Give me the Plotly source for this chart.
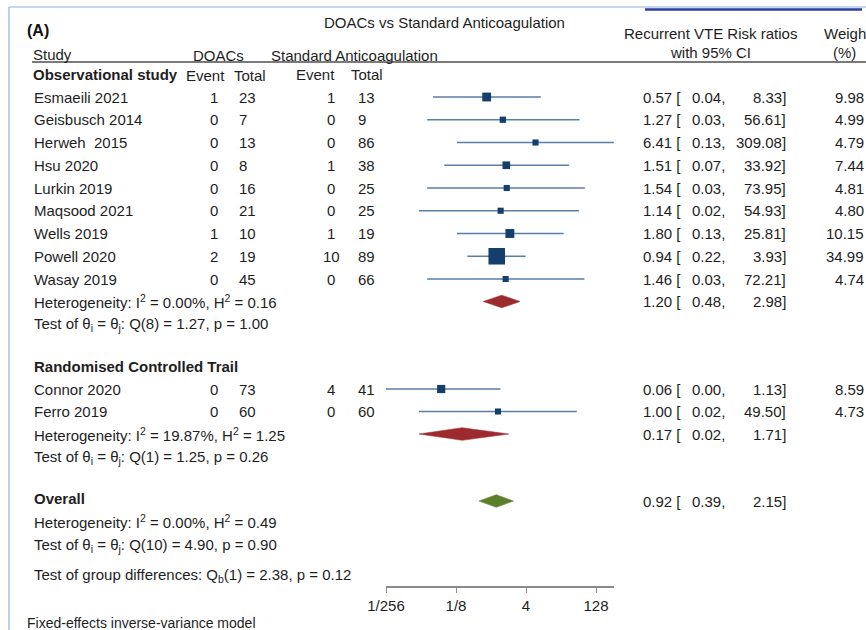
import math
import plotly.graph_objects as go

W, H = 866, 630
FONT = "Liberation Sans, Arial, sans-serif"
TEXT = "#1e1e1e"
SQUARE = "#143f6c"
CI_LINE = "#5a7ea6"
RED = "#9c2b30"
GREEN = "#5b7f2a"

# ---------------- data ----------------
obs_studies = ["Esmaeili 2021", "Geisbusch 2014", "Herweh  2015", "Hsu 2020", "Lurkin 2019",
               "Maqsood 2021", "Wells 2019", "Powell 2020", "Wasay 2019"]
obs_doac_events = [1, 0, 0, 0, 0, 0, 1, 2, 0]
obs_doac_totals = [23, 7, 13, 8, 16, 21, 10, 19, 45]
obs_std_events = [1, 0, 0, 1, 0, 0, 1, 10, 0]
obs_std_totals = [13, 9, 86, 38, 25, 25, 19, 89, 66]
obs_rr = [0.57, 1.27, 6.41, 1.51, 1.54, 1.14, 1.80, 0.94, 1.46]
obs_lo = [0.04, 0.03, 0.13, 0.07, 0.03, 0.02, 0.13, 0.22, 0.03]
obs_hi = [8.33, 56.61, 309.08, 33.92, 73.95, 54.93, 25.81, 3.93, 72.21]
obs_weight = [9.98, 4.99, 4.79, 7.44, 4.81, 4.80, 10.15, 34.99, 4.74]

rct_studies = ["Connor 2020", "Ferro 2019"]
rct_doac_events = [0, 0]
rct_doac_totals = [73, 60]
rct_std_events = [4, 0]
rct_std_totals = [41, 60]
rct_rr = [0.06, 1.00]
rct_lo = [0.0034, 0.02]
rct_hi = [1.13, 49.50]
rct_weight = [8.59, 4.73]

obs_pooled = (1.20, 0.48, 2.98)
rct_pooled = (0.17, 0.02, 1.71)
overall_pooled = (0.92, 0.39, 2.15)

obs_het = "Heterogeneity: I<sup>2</sup> = 0.00%, H<sup>2</sup> = 0.16"
obs_test = "Test of θ<sub>i</sub> = θ<sub>j</sub>: Q(8) = 1.27, p = 1.00"
rct_het = "Heterogeneity: I<sup>2</sup> = 19.87%, H<sup>2</sup> = 1.25"
rct_test = "Test of θ<sub>i</sub> = θ<sub>j</sub>: Q(1) = 1.25, p = 0.26"
all_het = "Heterogeneity: I<sup>2</sup> = 0.00%, H<sup>2</sup> = 0.49"
all_test = "Test of θ<sub>i</sub> = θ<sub>j</sub>: Q(10) = 4.90, p = 0.90"
group_test = "Test of group differences: Q<sub>b</sub>(1) = 2.38, p = 0.12"

tick_vals = [2 ** -8, 2 ** -3, 4, 128]
tick_text = ["1/256", "1/8", "4", "128"]

# ---------------- layout helpers ----------------
ROW0_PX, ROW_PX = 97.0, 22.75


def row(px):
    """Convert a vertical pixel position into the row units of the y axis."""
    return (px - ROW0_PX) / ROW_PX


# horizontal scale: 1/256 sits at x=386 px and every doubling adds 14 px
X_DOMAIN_PX = (386, 614)
x_left_l2 = -8 + (X_DOMAIN_PX[0] - 386) / 14
x_right_l2 = -8 + (X_DOMAIN_PX[1] - 386) / 14
LOG10_2 = math.log10(2)

obs_rows = [row(ROW0_PX + i * ROW_PX) for i in range(len(obs_studies))]
rct_rows = [row(389), row(411.5)]
obs_pool_row = row(301.5)
rct_pool_row = row(434)
all_pool_row = row(501)

fig = go.Figure()

# confidence-interval whiskers
ci_x, ci_y = [], []
for lo, hi, r in zip(obs_lo + rct_lo, obs_hi + rct_hi, obs_rows + rct_rows):
    ci_x += [lo, hi, None]
    ci_y += [r, r, None]
fig.add_trace(go.Scatter(x=ci_x, y=ci_y, mode="lines", cliponaxis=False,
                         line=dict(color=CI_LINE, width=1.6), hoverinfo="skip"))

# study weight squares (area proportional to weight)
all_w = obs_weight + rct_weight
fig.add_trace(go.Scatter(
    x=obs_rr + rct_rr, y=obs_rows + rct_rows, mode="markers",
    marker=dict(symbol="square", color=SQUARE, opacity=1,
                size=[2.8 * math.sqrt(w) for w in all_w],
                line=dict(width=0)),
    hoverinfo="skip"))

# pooled diamonds
HALF_H = 0.28
for (est, lo, hi), r, col in [(obs_pooled, obs_pool_row, RED),
                              (rct_pooled, rct_pool_row, RED),
                              (overall_pooled, all_pool_row, GREEN)]:
    fig.add_trace(go.Scatter(x=[lo, est, hi, est, lo], y=[r, r - HALF_H, r, r + HALF_H, r],
                             mode="lines", fill="toself", fillcolor=col,
                             line=dict(color=col, width=0.5), hoverinfo="skip"))

ann = []
PAD = 2  # annotation box padding, compensated so glyphs start at the given pixel


def txt(s, x_px, r, anchor="left", bold=False, size=15, color=TEXT):
    if bold:
        s = "<b>" + s + "</b>"
    if anchor == "left":
        x_px -= PAD
    elif anchor == "right":
        x_px += PAD
    ann.append(dict(text=s, x=x_px / W, y=r, xref="paper", yref="y", xanchor=anchor,
                    yanchor="middle", showarrow=False,
                    font=dict(family=FONT, size=size, color=color)))


# titles and headers
txt("(A)", 27, row(30), bold=True, size=16, color="#111")
txt("DOACs vs Standard Anticoagulation", 444, row(22), anchor="center")
txt("Study", 33, row(54))
txt("DOACs", 218, row(55), anchor="center")
txt("Standard Anticoagulation", 354, row(55), anchor="center")
txt("Recurrent VTE Risk ratios", 710, row(33), anchor="center")
txt("with 95% CI", 710, row(52), anchor="center")
txt("Weight", 847, row(33), anchor="center")
txt("(%)", 844, row(52), anchor="center")
txt("Observational study", 33, row(74), bold=True)
txt("Event", 205, row(75), anchor="center")
txt("Total", 250, row(75), anchor="center")
txt("Event", 315, row(74), anchor="center")
txt("Total", 367, row(74), anchor="center")


def study_rows(names, de, dt, se, st, rr, lo, hi, wt, rows):
    for i, r in enumerate(rows):
        txt(names[i], 34, r)
        txt(str(de[i]), 214, r, anchor="center")
        txt(str(dt[i]), 239, r)
        txt(str(se[i]), 331, r, anchor="center")
        txt(str(st[i]), 358, r)
        txt(f"{rr[i]:.2f} [", 643, r)
        txt(f"{lo[i]:.2f},", 692, r)
        txt(f"{hi[i]:.2f}]", 786, r, anchor="right")
        txt(f"{wt[i]:.2f}", 864, r, anchor="right")


def pooled_text(vals, r):
    est, lo, hi = vals
    txt(f"{est:.2f} [", 643, r)
    txt(f"{lo:.2f},", 692, r)
    txt(f"{hi:.2f}]", 786, r, anchor="right")


study_rows(obs_studies, obs_doac_events, obs_doac_totals, obs_std_events, obs_std_totals,
           obs_rr, obs_lo, obs_hi, obs_weight, obs_rows)
txt(obs_het, 34, obs_pool_row)
pooled_text(obs_pooled, obs_pool_row)
txt(obs_test, 34, row(324.5))

txt("Randomised Controlled Trail", 34, row(366), bold=True)
study_rows(rct_studies, rct_doac_events, rct_doac_totals, rct_std_events, rct_std_totals,
           rct_rr, rct_lo, rct_hi, rct_weight, rct_rows)
txt(rct_het, 34, rct_pool_row)
pooled_text(rct_pooled, rct_pool_row)
txt(rct_test, 34, row(457))

txt("Overall", 34, row(498), bold=True)
pooled_text(overall_pooled, all_pool_row)
txt(all_het, 34, row(521))
txt(all_test, 34, row(545))
txt(group_test, 34, row(575))
txt("Fixed-effects inverse-variance model", 27, row(623), size=14)

AXIS_PX = 587
shapes = [
    # rule under the column headers
    dict(type="line", xref="paper", yref="paper", x0=32 / W, x1=1,
         y0=1 - 62 / H, y1=1 - 62 / H, line=dict(color="#7a7a7a", width=2)),
    # panel frame
    dict(type="line", xref="paper", yref="paper", x0=9 / W, x1=1,
         y0=1 - 7 / H, y1=1 - 7 / H, line=dict(color="#8fb0de", width=1.2)),
    dict(type="line", xref="paper", yref="paper", x0=9 / W, x1=9 / W,
         y0=0, y1=1 - 7 / H, line=dict(color="#8fb0de", width=1.2)),
    dict(type="line", xref="paper", yref="paper", x0=645 / W, x1=862 / W,
         y0=1 - 9.5 / H, y1=1 - 9.5 / H, line=dict(color="#2a3fa0", width=2.5)),
]

fig.update_layout(
    width=W, height=H, margin=dict(l=0, r=0, t=0, b=0, pad=0, autoexpand=False),
    paper_bgcolor="white", plot_bgcolor="rgba(0,0,0,0)", showlegend=False,
    annotations=ann, shapes=shapes,
    xaxis=dict(type="log", domain=[X_DOMAIN_PX[0] / W, X_DOMAIN_PX[1] / W],
               range=[x_left_l2 * LOG10_2, x_right_l2 * LOG10_2],
               anchor="free", position=1 - AXIS_PX / H, automargin=False,
               showgrid=False, zeroline=False,
               showline=True, linecolor="#8a8a8a", linewidth=1.5,
               tickmode="array", tickvals=tick_vals, ticktext=tick_text,
               ticks="outside", ticklen=5, tickwidth=1.3, tickcolor="#8a8a8a",
               tickfont=dict(family=FONT, size=15, color=TEXT)),
    yaxis=dict(domain=[0, 1], range=[row(H), row(0)], visible=False, automargin=False),
)

fig.write_html("out.html")
